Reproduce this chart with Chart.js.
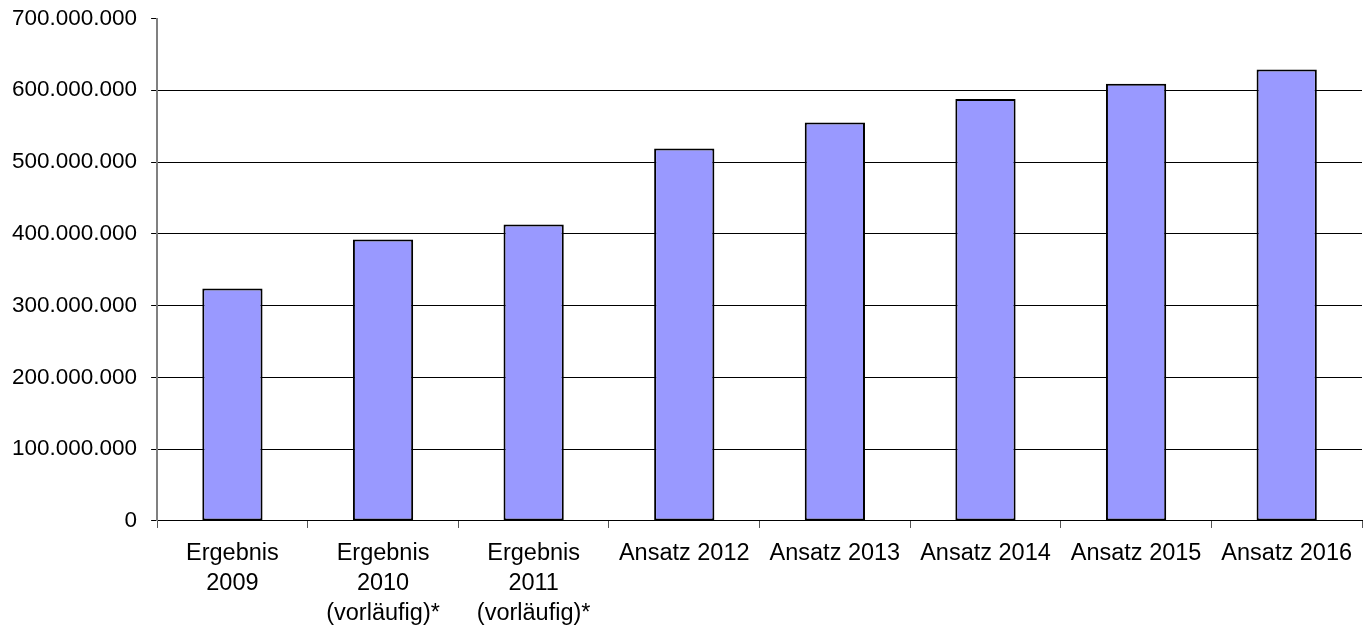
<!DOCTYPE html>
<html lang="de">
<head>
<meta charset="utf-8">
<title>Ergebnis und Ansatz 2009-2016</title>
<script src="https://cdn.jsdelivr.net/npm/chart.js@4/dist/chart.umd.min.js"></script>
<style>
  html, body { margin: 0; padding: 0; background: #fff; }
  .wrap { position: relative; width: 1372px; height: 628px; }
</style>
</head>
<body>
<div class="wrap"><canvas id="budgetChart"></canvas></div>
<script>
  const categories = [
    ['Ergebnis', '2009'],
    ['Ergebnis', '2010', '(vorläufig)*'],
    ['Ergebnis', '2011', '(vorläufig)*'],
    'Ansatz 2012',
    'Ansatz 2013',
    'Ansatz 2014',
    'Ansatz 2015',
    'Ansatz 2016'
  ];
  const amounts = [324000000, 392000000, 413000000, 519000000, 555000000, 588000000, 609000000, 629000000];
  const yMax = 700000000;
  const yStep = 100000000;

  const numberFormat = new Intl.NumberFormat('de-DE');
  const fontFamily = '"Liberation Sans", Arial, sans-serif';

  new Chart(document.getElementById('budgetChart'), {
    type: 'bar',
    data: {
      labels: categories,
      datasets: [{
        data: amounts,
        backgroundColor: '#9999ff',
        borderColor: '#000000',
        borderWidth: 2,
        borderSkipped: false,
        categoryPercentage: 1,
        barPercentage: 0.4
      }]
    },
    options: {
      responsive: true,
      maintainAspectRatio: false,
      animation: false,
      layout: { padding: { left: -2, right: 10, top: 0, bottom: -12 } },
      plugins: { legend: { display: false }, tooltip: { enabled: false } },
      scales: {
        x: {
          border: { color: '#000000', width: 1 },
          grid: { drawOnChartArea: false, tickLength: 7, color: '#555555', offset: true },
          ticks: {
            color: '#000000',
            padding: 11,
            maxRotation: 0,
            autoSkip: false,
            font: { family: fontFamily, size: 23.5, lineHeight: 1.277 }
          }
        },
        y: {
          min: 0,
          max: yMax,
          border: { color: '#808080', width: 2 },
          grid: {
            // no gridline on the top value, only its tick mark
            color: (ctx) => (ctx.tick && ctx.tick.value === yMax ? 'rgba(0,0,0,0)' : '#000000'),
            tickColor: '#000000',
            tickLength: 6,
            lineWidth: 1
          },
          ticks: {
            stepSize: yStep,
            padding: 14,
            color: '#000000',
            // single-line labels: a small lineHeight only trims the reserved top space
            font: { family: fontFamily, size: 22.5, lineHeight: 0.4 },
            callback: (value) => numberFormat.format(value)
          }
        }
      }
    }
  });
</script>
</body>
</html>
